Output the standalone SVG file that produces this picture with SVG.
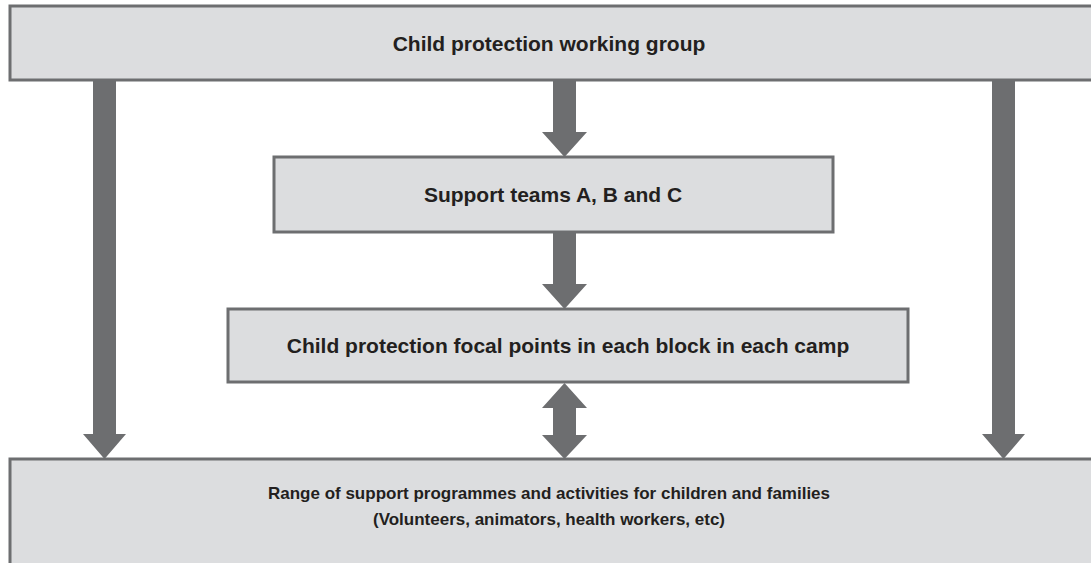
<svg xmlns="http://www.w3.org/2000/svg" width="1091" height="563" viewBox="0 0 1091 563">
<style>
.box{fill:#dcdddf;stroke:#6d6e70;stroke-width:3}
.arr{fill:#6d6e70}
.t{font-family:"Liberation Sans",Arial,sans-serif;font-weight:bold;font-size:21px;fill:#231f20;text-anchor:middle}
.s{font-size:17px}
</style>
<rect width="1091" height="563" fill="#ffffff"/>
<g id="connectors">
<polygon class="arr" points="93,80 116,80 116,434 126,434 104.5,459 83,434 93,434"/>
<polygon class="arr" points="992,80 1015,80 1015,434 1025,434 1003.5,459 982,434 992,434"/>
<polygon class="arr" points="553,80 576,80 576,132 587,132 564.5,157 542,132 553,132"/>
<polygon class="arr" points="553,232 576,232 576,284 587,284 564.5,309 542,284 553,284"/>
<polygon class="arr" points="564.5,383 587,408 576,408 576,435 587,435 564.5,459 542,435 553,435 553,408 542,408"/>
</g>
<g id="node-top">
<rect class="box" x="10" y="6" width="1095" height="74"/>
<text class="t" x="549" y="51">Child protection working group</text>
</g>
<g id="node-support">
<rect class="box" x="274" y="157" width="559" height="75"/>
<text class="t" x="553" y="202">Support teams A, B and C</text>
</g>
<g id="node-focal">
<rect class="box" x="228" y="309" width="680" height="73"/>
<text class="t" x="568" y="353">Child protection focal points in each block in each camp</text>
</g>
<g id="node-bottom">
<rect class="box" x="10" y="459" width="1095" height="110"/>
<text class="t s" x="549" y="499">Range of support programmes and activities for children and families</text>
<text class="t s" x="549" y="525">(Volunteers, animators, health workers, etc)</text>
</g>
</svg>
